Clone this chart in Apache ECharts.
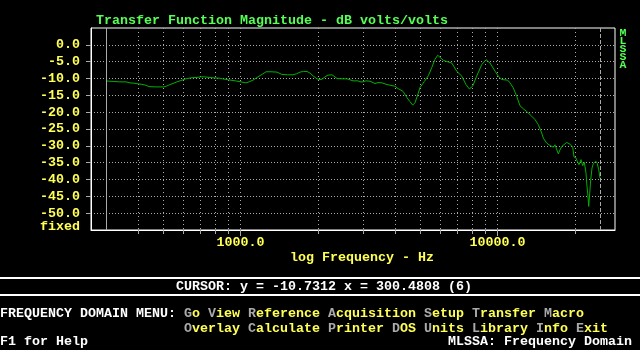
<!DOCTYPE html>
<html><head><meta charset="utf-8">
<script src="https://cdn.jsdelivr.net/npm/echarts@6/dist/echarts.min.js"></script>
<style>html,body{margin:0;padding:0;background:#000;}#c{width:640px;height:350px;}</style>
</head><body><div id="c"></div>
<script>
// ---- data ----
const freqHz = [
  300.48, 322, 340, 359, 372, 386, 400, 411, 429, 441,
  470, 504, 514, 537, 562, 587, 614, 643, 672, 703,
  722, 735, 782, 826, 852, 899, 957, 1005, 1051, 1080,
  1119, 1171, 1224, 1258, 1315, 1388, 1400, 1451, 1525, 1602,
  1653, 1706, 1760, 1816, 1865, 1916, 1986, 2040, 2077, 2134,
  2192, 2272, 2313, 2376, 2484, 2598, 2621, 2742, 2867, 2919,
  2998, 3080, 3192, 3338, 3429, 3554, 3618, 3717, 3751, 3994,
  4103, 4290, 4446, 4567, 4679, 4776, 4876, 4995, 5192, 5380,
  5547, 5713, 5853, 5922, 6155, 6436, 6635, 6938, 7256, 7542,
  7768, 8008, 8300, 8679, 9021, 9351, 9779, 10072, 10383, 10956,
  11183, 11520, 11876, 12234, 12600, 12989, 13583, 13992, 14412, 14857,
  15071, 15538, 16003, 16482, 16734, 16991, 17238, 17503, 17771, 18582,
  19143, 19611, 19838, 20198, 20436, 20749, 21125, 21449, 21759, 22093,
  22231, 22493, 22634, 22838, 23044, 23311, 23586, 23947, 24163, 24448,
  24754, 25045
];
const magDb = [
  -10.73, -10.9, -11.0, -11.0, -11.3, -11.4, -11.6, -11.7, -12.0, -12.4,
  -12.5, -12.5, -12.3, -11.7, -11.1, -10.6, -10.1, -9.8, -9.7, -9.5,
  -9.5, -9.7, -9.8, -9.9, -10.1, -10.4, -10.7, -11.0, -11.3, -11.0,
  -10.5, -9.5, -8.6, -8.0, -8.0, -8.1, -8.3, -8.8, -8.9, -8.9,
  -8.6, -8.1, -7.9, -7.9, -8.4, -9.2, -10.1, -10.3, -10.2, -9.5,
  -9.0, -8.9, -9.2, -10.0, -10.1, -10.1, -10.6, -10.7, -10.7, -11.0,
  -11.0, -10.7, -10.8, -11.5, -11.2, -11.3, -11.7, -11.8, -12.1, -12.3,
  -13.0, -13.8, -15.7, -16.9, -17.9, -17.2, -15.2, -12.7, -10.9, -9.2,
  -6.8, -4.3, -3.1, -2.9, -4.6, -5.1, -5.4, -7.8, -9.3, -11.8,
  -13.1, -12.3, -9.3, -5.9, -4.4, -5.4, -7.8, -9.3, -10.3, -10.5,
  -11.3, -12.8, -15.3, -18.1, -19.0, -19.8, -21.2, -22.2, -23.7, -26.2,
  -27.7, -29.2, -29.9, -30.4, -29.7, -30.2, -32.4, -31.2, -30.2, -29.0,
  -29.5, -30.4, -33.3, -33.6, -34.6, -35.6, -34.1, -35.9, -34.9, -38.1,
  -41.1, -45.1, -48.0, -44.0, -40.1, -36.6, -35.3, -34.8, -34.6, -35.3,
  -37.1, -39.6
];
const yTickValues = [-50, -45, -40, -35, -30, -25, -20, -15, -10, -5, 0];
const xMinorTicks = [400, 500, 600, 700, 800, 900, 2000, 3000, 4000, 5000, 6000, 7000, 8000, 9000, 20000];
const xMajorTicks = [1000, 10000];
const cursorFreq = 300.48;
const endFreq = 25045;
const xMin = 262.4, xMax = 28640;
const yMin = -55, yMax = 5;

const titleText = 'Transfer Function Magnitude - dB volts/volts';
const xAxisTitle = 'log Frequency - Hz';
const cursorText = 'CURSOR: y = -10.7312 x = 300.4808 (6)';
const menuLabel = 'FREQUENCY DOMAIN MENU:';
const menu1Words = ['Go', 'View', 'Reference', 'Acquisition', 'Setup', 'Transfer', 'Macro'];
const menu2Words = ['Overlay', 'Calculate', 'Printer', 'DOS', 'Units', 'Library', 'Info', 'Exit'];
const helpText = 'F1 for Help';
const statusText = 'MLSSA: Frequency Domain';

// ---- styling ----
const FF = '"Liberation Mono", "DejaVu Sans Mono", monospace';
const FS = 13.33;
const GREEN = '#55ff55', YELLOW = '#ffff55', GRAY = '#aaaaaa', WHITE = '#ffffff';
const font = (w) => (w || 'bold') + ' ' + FS + 'px ' + FF;

const seriesData = freqHz.map((f, i) => [f, magDb[i]]);
const lg = Math.log10;

function hot(words) {
  return words.map(w => '{g|' + w[0] + '}{y|' + w.slice(1) + '}').join(' ');
}
const richStyles = {
  g: { fill: GRAY, font: font() },
  y: { fill: YELLOW, font: font() }
};

const chart = echarts.init(document.getElementById('c'), null, { renderer: 'canvas' });
const decoAxisBase = {
  type: 'value', position: 'bottom', gridIndex: 0,
  min: lg(xMin), max: lg(xMax),
  axisLine: { show: false, onZero: false }
};
chart.setOption({
  backgroundColor: '#000000',
  animation: false,
  grid: { left: 91, right: 25, top: 28, bottom: 120, show: true, borderColor: WHITE, borderWidth: 1, backgroundColor: 'transparent' },
  xAxis: [
    {
      type: 'log', logBase: 10, min: xMin, max: xMax, position: 'bottom',
      axisLine: { show: true, onZero: false, lineStyle: { color: WHITE, width: 1 } },
      axisTick: { show: false }, axisLabel: { show: false }, splitLine: { show: false }
    },
    Object.assign({}, decoAxisBase, {
      axisTick: { show: true, customValues: xMinorTicks.map(lg), length: 4, lineStyle: { color: GRAY } },
      axisLabel: { show: false },
      splitLine: { show: true, lineStyle: { color: GRAY, type: [1, 3], width: 1 } }
    }),
    Object.assign({}, decoAxisBase, {
      axisTick: { show: true, customValues: xMajorTicks.map(lg), length: 6, lineStyle: { color: GRAY } },
      axisLabel: {
        show: true, customValues: xMajorTicks.map(lg), margin: 6,
        formatter: v => Math.pow(10, v).toFixed(1),
        color: YELLOW, fontFamily: FF, fontSize: FS, fontWeight: 'bold'
      },
      splitLine: { show: true, lineStyle: { color: GRAY, type: [1, 3], width: 1 } }
    })
  ],
  yAxis: {
    type: 'value', min: yMin, max: yMax, interval: 5,
    axisLine: { show: true, onZero: false, lineStyle: { color: WHITE } },
    axisTick: { show: true, customValues: yTickValues, length: 5, lineStyle: { color: GRAY } },
    axisLabel: {
      customValues: yTickValues, margin: 11,
      formatter: v => v.toFixed(1),
      color: YELLOW, fontFamily: FF, fontSize: FS, fontWeight: 'bold'
    },
    splitLine: { show: true, lineStyle: { color: GRAY, type: [1, 2], width: 1 } }
  },
  series: [{
    type: 'line', xAxisIndex: 0, yAxisIndex: 0,
    data: seriesData, showSymbol: false, symbol: 'none', smooth: false,
    lineStyle: { color: '#00b000', width: 1 },
    silent: true,
    markLine: {
      silent: true, symbol: ['none', 'none'], label: { show: false },
      data: [
        { xAxis: cursorFreq, lineStyle: { color: GRAY, type: 'solid', width: 1 } },
        { xAxis: endFreq, lineStyle: { color: GRAY, type: [4, 2], width: 1 } }
      ]
    }
  }],
  graphic: [
    { type: 'text', x: 96, y: 21, style: { text: titleText, fill: GREEN, font: font(), verticalAlign: 'middle' } },
    { type: 'text', x: 623, y: 29, style: { text: 'M\nL\nS\nS\nA', fill: GREEN, font: 'bold 11.5px ' + FF, lineHeight: 8, align: 'center', verticalAlign: 'top' } },
    { type: 'text', x: 80, y: 227, style: { text: 'fixed', fill: YELLOW, font: font(), align: 'right', verticalAlign: 'middle' } },
    { type: 'text', x: 290, y: 258, style: { text: xAxisTitle, fill: YELLOW, font: font(), verticalAlign: 'middle' } },
    { type: 'line', shape: { x1: 0, y1: 278, x2: 640, y2: 278 }, style: { stroke: WHITE, lineWidth: 2 } },
    { type: 'line', shape: { x1: 0, y1: 295, x2: 640, y2: 295 }, style: { stroke: WHITE, lineWidth: 2 } },
    { type: 'text', x: 176, y: 287, style: { text: cursorText, fill: WHITE, font: font(), verticalAlign: 'middle' } },
    { type: 'text', x: 0, y: 314, style: { text: menuLabel, fill: WHITE, font: font(), verticalAlign: 'middle' } },
    { type: 'text', x: 184, y: 314, style: { text: hot(menu1Words), rich: richStyles, fill: YELLOW, font: font(), verticalAlign: 'middle' } },
    { type: 'text', x: 184, y: 329, style: { text: hot(menu2Words), rich: richStyles, fill: YELLOW, font: font(), verticalAlign: 'middle' } },
    { type: 'text', x: 0, y: 342, style: { text: helpText, fill: WHITE, font: font(), verticalAlign: 'middle' } },
    { type: 'text', x: 448, y: 342, style: { text: statusText, fill: WHITE, font: font(), verticalAlign: 'middle' } }
  ]
});
</script></body></html>
